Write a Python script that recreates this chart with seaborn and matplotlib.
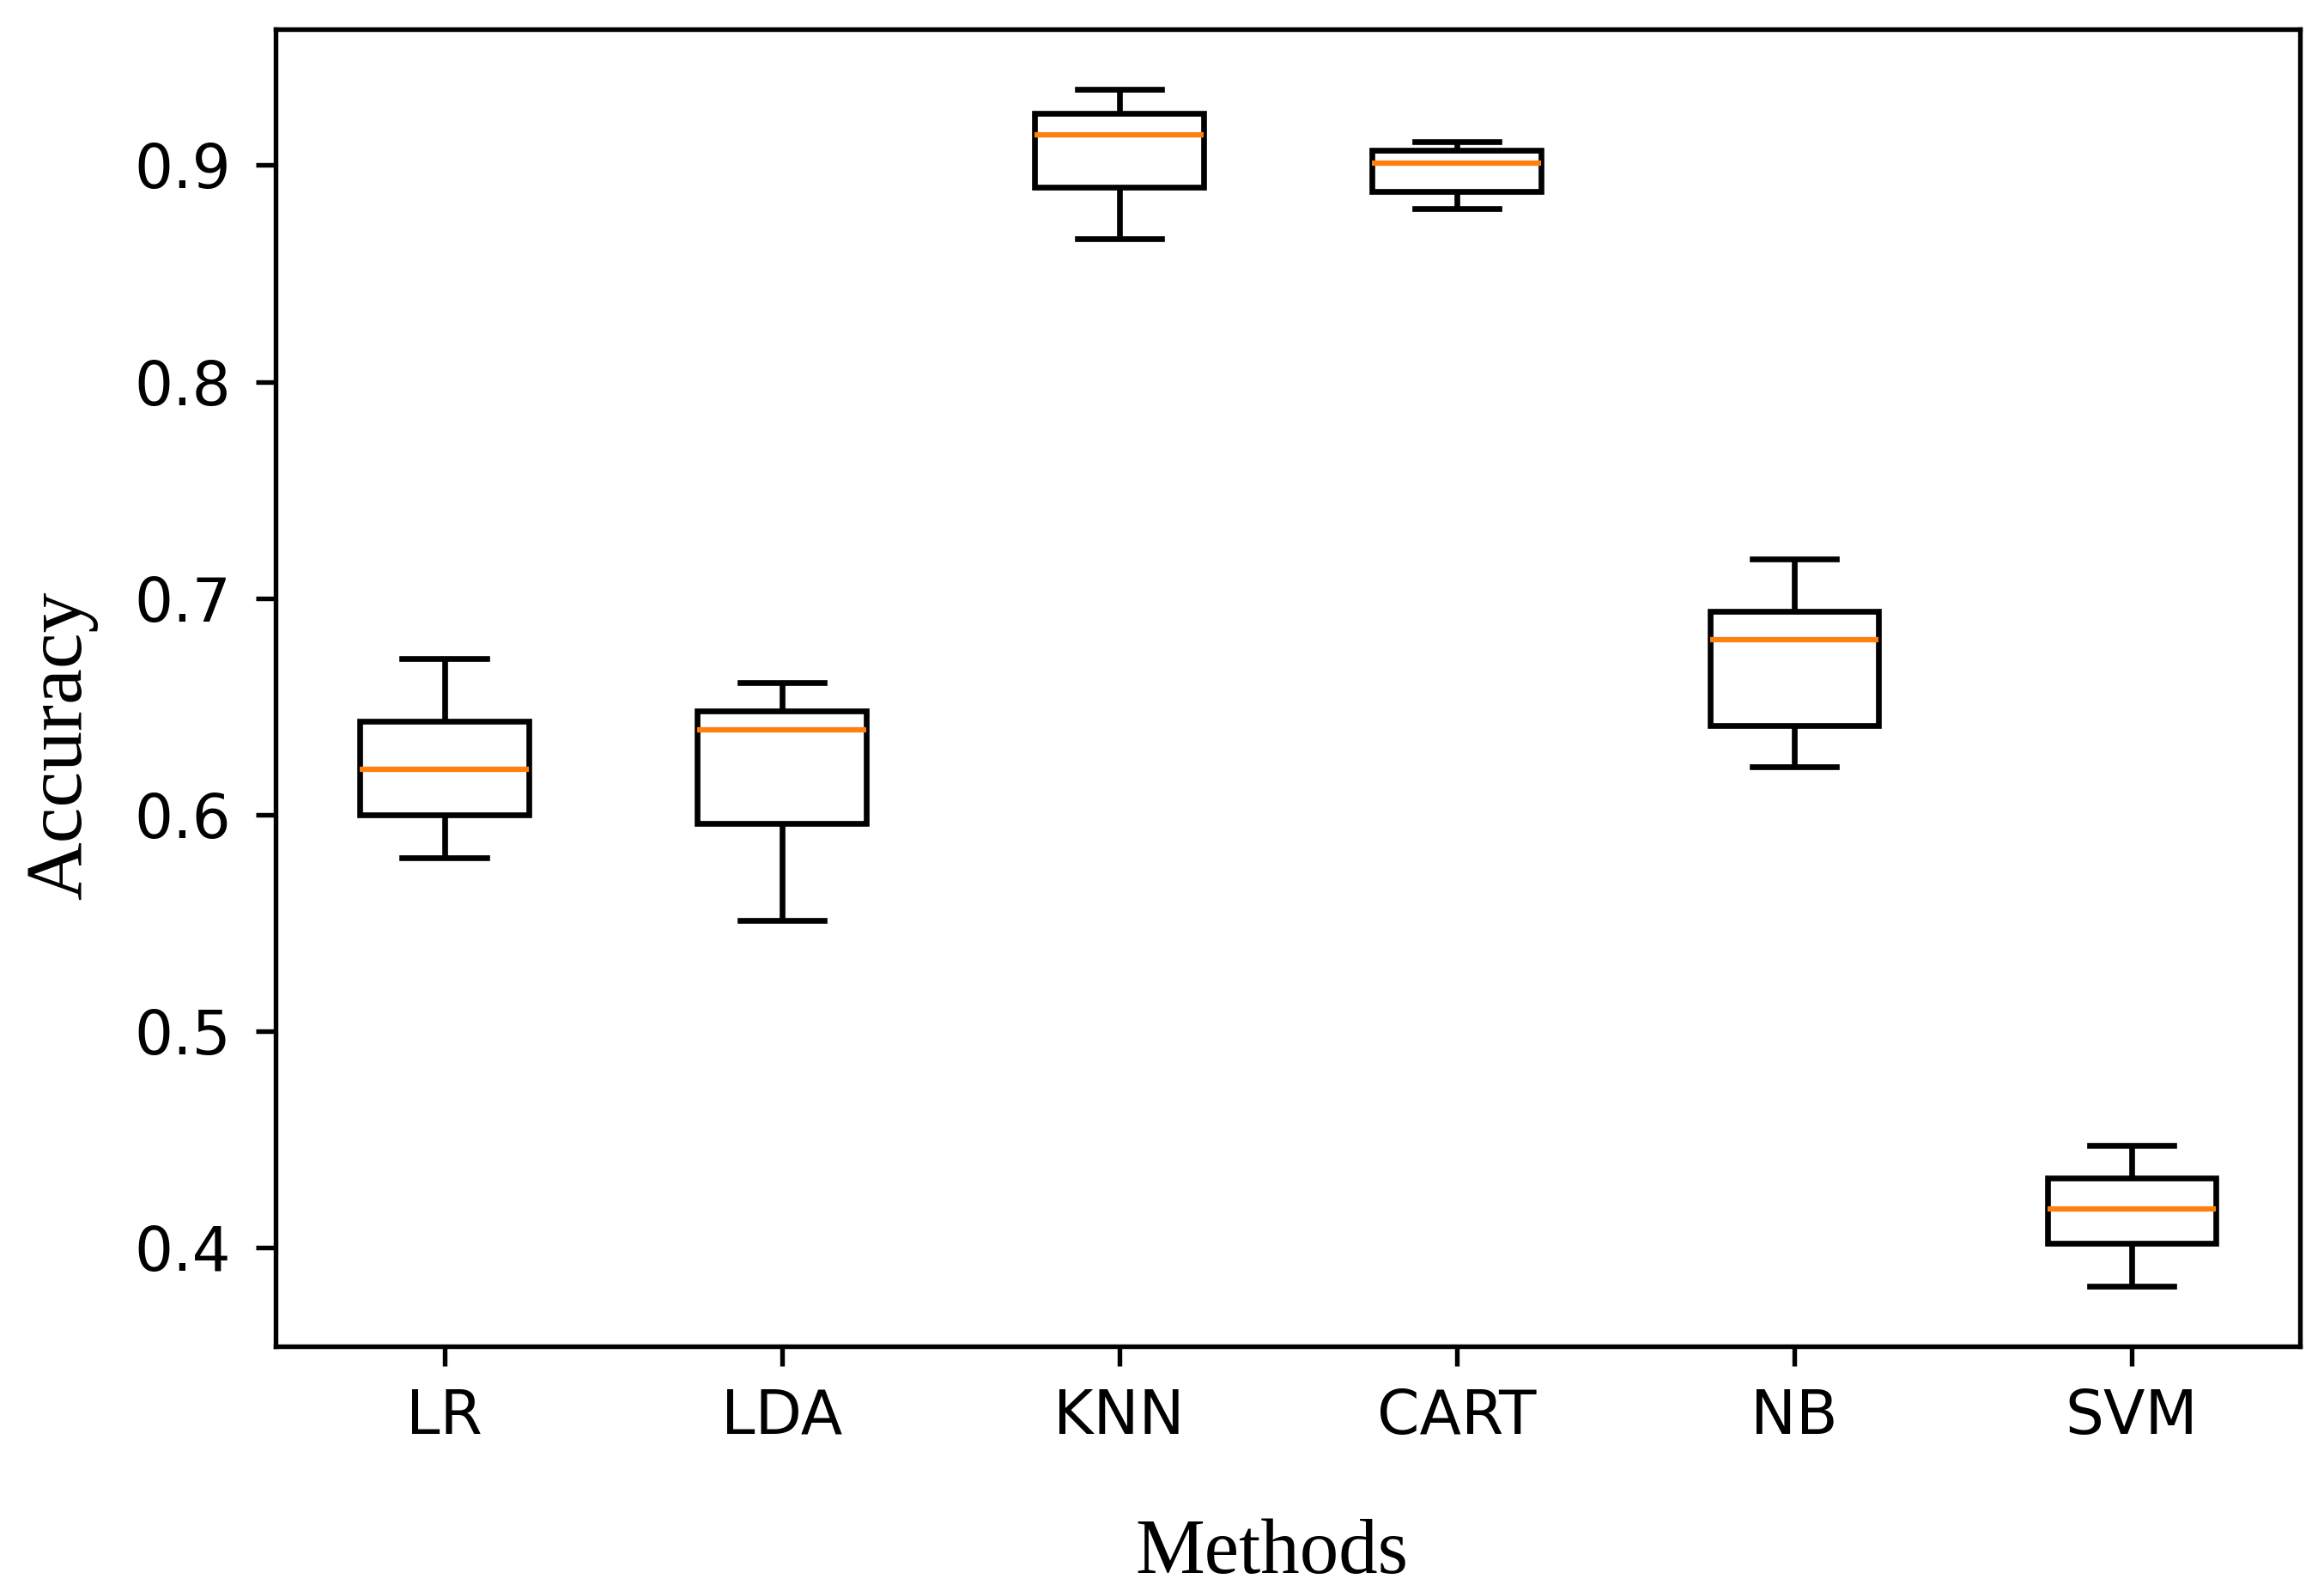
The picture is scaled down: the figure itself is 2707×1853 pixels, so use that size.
import pandas as pd
import matplotlib
matplotlib.use("Agg")
import matplotlib.pyplot as plt
import seaborn as sns

# Box summaries: whisker low, Q1, median, Q3, whisker high
methods = ["LR", "LDA", "KNN", "CART", "NB", "SVM"]
lr = [0.580, 0.600, 0.621, 0.643, 0.672]
lda = [0.551, 0.596, 0.639, 0.648, 0.661]
knn = [0.866, 0.890, 0.914, 0.924, 0.935]
cart = [0.880, 0.888, 0.901, 0.907, 0.911]
nb = [0.622, 0.641, 0.681, 0.694, 0.718]
svm = [0.382, 0.402, 0.418, 0.432, 0.447]

rows = []
for name, vals in zip(methods, [lr, lda, knn, cart, nb, svm]):
    for v in vals:
        rows.append({"Methods": name, "Accuracy": v})
df = pd.DataFrame(rows)

plt.figure(figsize=(2707 / 300, 1853 / 300), dpi=300)
ax = plt.gca()

# Box plot per method, whiskers spanning the full range
sns.boxplot(data=df, x="Methods", y="Accuracy", order=methods, whis=(0, 100),
            width=0.5, color="white", linecolor="black", linewidth=1.6,
            medianprops={"color": "#ff7f0e", "linewidth": 1.5}, ax=ax)

ax.set_yticks([0.4, 0.5, 0.6, 0.7, 0.8, 0.9])
ax.tick_params(axis="both", labelsize=17, length=5.5, width=1.3)
ax.tick_params(axis="x", pad=6)
ax.tick_params(axis="y", pad=7)
for sp in ax.spines.values():
    sp.set_linewidth(1.3)

# Axis labels in a Times-like serif
ax.set_xlabel("Methods", fontsize=21.8, family="Liberation Serif", labelpad=20)
ax.set_ylabel("Accuracy", fontsize=22.5, family="Liberation Serif", labelpad=10)
ax.xaxis.label.set_x(0.492)
ax.yaxis.label.set_y(0.456)

plt.subplots_adjust(left=0.1186, right=0.9898, top=0.9814, bottom=0.1538)
plt.savefig("out.png", dpi=300)
